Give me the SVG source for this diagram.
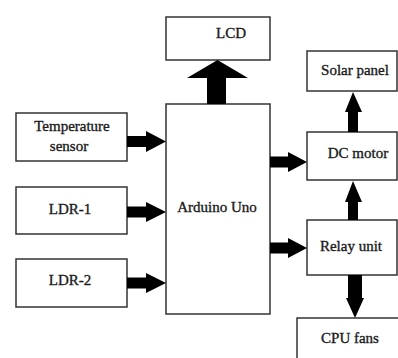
<svg xmlns="http://www.w3.org/2000/svg" width="398" height="358" viewBox="0 0 398 358">
<style>
.box{fill:#fff;stroke:#333;stroke-width:1.5}
.t{font-family:'Liberation Serif','DejaVu Serif','Times New Roman',serif;font-size:15px;font-weight:normal;fill:#1a1a1a;stroke:#1a1a1a;stroke-width:0.35;text-anchor:middle}
.arr{fill:#000}
</style>
<rect width="398" height="358" fill="#fff"/>
<g id="lcd"><rect class="box" x="166" y="17" width="104" height="43"/><text class="t" x="231" y="38">LCD</text></g>
<g id="arduino"><rect class="box" x="166" y="104" width="104" height="210"/><text class="t" x="217" y="212">Arduino Uno</text></g>
<g id="temp"><rect class="box" x="16" y="113" width="111" height="48"/><text class="t" x="72" y="131">Temperature</text><text class="t" x="69" y="151">sensor</text></g>
<g id="ldr1"><rect class="box" x="16" y="187" width="111" height="47"/><text class="t" x="70" y="214">LDR-1</text></g>
<g id="ldr2"><rect class="box" x="16" y="259" width="111" height="48"/><text class="t" x="70" y="285">LDR-2</text></g>
<g id="solar"><rect class="box" x="307" y="51" width="90" height="40"/><text class="t" x="355" y="75">Solar panel</text></g>
<g id="dcmotor"><rect class="box" x="307" y="132" width="90" height="48"/><text class="t" x="358" y="158">DC motor</text></g>
<g id="relay"><rect class="box" x="307" y="220" width="90" height="55"/><text class="t" x="351" y="251">Relay unit</text></g>
<g id="cpu"><rect class="box" x="297" y="318" width="110" height="50"/><text class="t" x="350" y="343">CPU fans</text></g>
<g id="connectors">
<polygon class="arr" points="207,104 207,78 187,78 217.5,60 248,78 226,78 226,104"/>
<polygon class="arr" points="127,136 146,136 146,131 166,141.5 146,152 146,147 127,147"/>
<polygon class="arr" points="127,206.5 146,206.5 146,202 166,212 146,222 146,217.5 127,217.5"/>
<polygon class="arr" points="127,277.5 146,277.5 146,273 166,283 146,293 146,288.5 127,288.5"/>
<polygon class="arr" points="270,156.5 288,156.5 288,152 307,162 288,172 288,167.5 270,167.5"/>
<polygon class="arr" points="270,242.5 288,242.5 288,238 307,248 288,258 288,253.5 270,253.5"/>
<polygon class="arr" points="348,132 348,112 345,112 353,92 362,112 358,112 358,132"/>
<polygon class="arr" points="348,220 348,202 345,202 353,181 362,202 358,202 358,220"/>
<polygon class="arr" points="348,275 348,298 346,298 355,318 364,298 362,298 362,275"/>
</g>
</svg>
